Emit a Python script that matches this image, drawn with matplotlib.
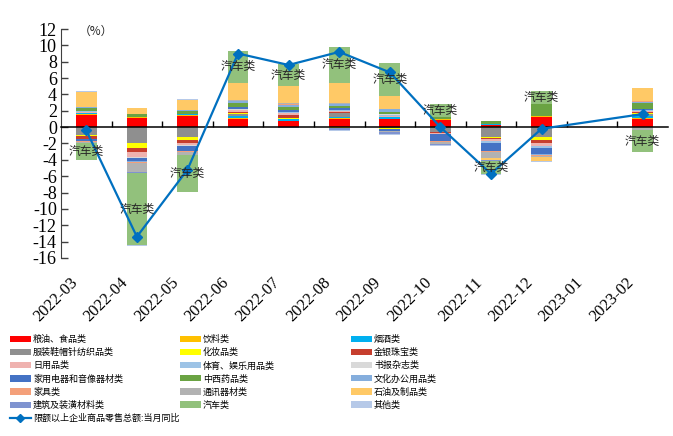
import numpy as np
import matplotlib
matplotlib.use("Agg")
import matplotlib.pyplot as plt
from matplotlib.patches import Patch
from matplotlib.lines import Line2D

nan = np.nan

months = ["2022-03", "2022-04", "2022-05", "2022-06", "2022-07", "2022-08",
          "2022-09", "2022-10", "2022-11", "2022-12", "2023-01", "2023-02"]

# contribution of each goods category (percentage points)
food      = [1.45, 1.10, 1.34, 1.00, 0.70, 1.00, 0.95, 0.90, 0.25, 1.20, nan, 1.00]
drinks    = [0.10, 0.15, 0.12, 0.15, 0.05, 0.10, 0.10, 0.10, 0.05, 0.12, nan, 0.10]
tobacco   = [0.20, 0.05, 0.20, 0.20, 0.20, 0.20, 0.15, 0.05, 0.05, 0.05, nan, 0.25]
apparel   = [-0.94, -1.96, -1.22, 0.20, 0.10, 0.40, -0.10, -0.55, -1.20, -1.15, nan, 0.25]
cosmetics = [-0.12, -0.57, -0.33, 0.15, 0.05, -0.15, -0.10, -0.05, -0.12, -0.45, nan, 0.10]
jewelry   = [-0.33, -0.53, -0.33, 0.20, 0.40, 0.10, 0.10, -0.10, -0.18, -0.35, nan, 0.15]
daily     = [0.10, -0.53, -0.29, 0.15, 0.20, 0.15, 0.10, -0.10, -0.25, -0.40, nan, 0.10]
sports    = [0.10, -0.12, -0.05, 0.10, 0.10, 0.10, 0.10, -0.05, -0.15, -0.15, nan, 0.10]
books     = [0.05, -0.05, -0.03, 0.10, 0.10, 0.10, 0.10, -0.02, -0.05, -0.05, nan, 0.05]
appliance = [-0.25, -0.41, -0.61, 0.25, 0.25, 0.15, -0.30, -0.80, -1.00, -0.70, nan, 0.10]
medicine  = [0.35, 0.30, 0.33, 0.50, 0.30, 0.30, 0.30, 0.25, 0.35, 1.40, nan, 0.80]
office    = [0.15, -0.05, 0.05, 0.15, 0.30, 0.20, 0.30, -0.05, 0.05, -0.20, nan, 0.10]
furniture = [-0.12, -0.20, -0.20, 0.05, 0.05, 0.05, 0.05, -0.05, -0.10, -0.10, nan, 0.05]
telecom   = [-0.16, -1.10, -0.29, 0.10, 0.10, 0.10, -0.15, -0.30, -0.75, -0.15, nan, -0.35]
petroleum = [1.75, 0.70, 1.30, 2.10, 2.10, 2.45, 1.55, -0.05, -0.25, -0.40, nan, 1.60]
building  = [0.05, -0.10, -0.10, -0.10, -0.10, -0.15, -0.20, -0.08, -0.05, -0.10, nan, -0.05]
car       = [-2.12, -8.80, -4.50, 3.95, 2.75, 4.45, 4.05, 1.50, -1.65, 1.60, nan, -2.70]
others    = [0.10, -0.16, 0.05, -0.05, -0.05, -0.15, -0.05, -0.05, -0.05, -0.05, nan, 0.00]

# retail sales of enterprises above designated size, y/y (%)
total_yoy = [-0.4, -13.4, -5.2, 9.0, 7.6, 9.2, 6.7, 0.0, -5.7, -0.2, nan, 1.6]

series = [
    ("粮油、食品类", food, "#FF0000"),
    ("饮料类", drinks, "#FFC000"),
    ("烟酒类", tobacco, "#00B0F0"),
    ("服装鞋帽针纺织品类", apparel, "#8F8F8F"),
    ("化妆品类", cosmetics, "#FFFF00"),
    ("金银珠宝类", jewelry, "#C63E2E"),
    ("日用品类", daily, "#EFB2AF"),
    ("体育、娱乐用品类", sports, "#9DC3E6"),
    ("书报杂志类", books, "#D9D9D9"),
    ("家用电器和音像器材类", appliance, "#4472C4"),
    ("中西药品类", medicine, "#6AA343"),
    ("文化办公用品类", office, "#85AEDD"),
    ("家具类", furniture, "#F4A07A"),
    ("通讯器材类", telecom, "#B2B2B2"),
    ("石油及制品类", petroleum, "#FFC966"),
    ("建筑及装潢材料类", building, "#7F93D0"),
    ("汽车类", car, "#92C17C"),
    ("其他类", others, "#B6C9E8"),
]
line_label = "限额以上企业商品零售总额:当月同比"
line_color = "#0070C0"

CJK = ["Noto Sans CJK SC", "DejaVu Sans"]
SERIF = ["Liberation Serif", "DejaVu Serif"]

W, H = 673, 436
fig = plt.figure(figsize=(W / 100, H / 100), dpi=100)
ax = fig.add_axes([61 / W, 1 - 258 / H, 607 / W, 229 / H])

x = np.arange(len(months))
bar_w = 0.41
pos_base = np.zeros(len(months))
neg_base = np.zeros(len(months))
handles = {}
car_mid = None
for name, vals, color in series:
    v = np.asarray(vals, dtype=float)
    valid = ~np.isnan(v)
    vv = np.where(valid, v, 0.0)
    bottom = np.where(vv >= 0, pos_base, neg_base)
    ax.bar(x[valid], vv[valid], width=bar_w, bottom=bottom[valid],
           color=color, linewidth=0, zorder=2)
    if name == "汽车类":
        car_mid = bottom + vv / 2
    pos_base = pos_base + np.where(vv > 0, vv, 0)
    neg_base = neg_base + np.where(vv < 0, vv, 0)
    handles[name] = Patch(facecolor=color, edgecolor="none")

# series-name labels on the car segments
car_arr = np.asarray(car, dtype=float)
for i in range(len(months)):
    if not np.isnan(car_arr[i]):
        ax.text(x[i], car_mid[i], "汽车类", ha="center", va="center",
                fontsize=8.5, family=CJK, color="#262626", zorder=4)

# total line, gap month skipped
ty = np.asarray(total_yoy, dtype=float)
ok = ~np.isnan(ty)
ax.plot(x[ok], ty[ok], color=line_color, lw=1.6, marker="D", ms=5,
        zorder=3)

ax.set_xlim(-0.5, len(months) - 0.5)
ax.set_ylim(-16, 12)
ax.set_yticks(np.arange(-16, 13, 2))
ax.set_yticklabels([str(t) for t in range(-16, 13, 2)], family=SERIF,
                   fontsize=13)
ax.tick_params(axis="y", direction="in", length=5, width=1, color="#404040",
               pad=3)

ax.spines["top"].set_visible(False)
ax.spines["right"].set_visible(False)
ax.spines["left"].set_color("#404040")
ax.spines["bottom"].set_position(("data", 0))
ax.spines["bottom"].set_color("black")
ax.spines["bottom"].set_linewidth(1.1)
ax.set_xticks(x[:-1] + 0.5)
ax.set_xticklabels([])
ax.tick_params(axis="x", direction="in", length=4, width=1, color="black")

for i, m in enumerate(months):
    ax.annotate(m, xy=(x[i], 0), xycoords=("data", "axes fraction"),
                xytext=(-4, -12), textcoords="offset points", rotation=45,
                ha="right", va="top", fontsize=12, family=SERIF)

fig.text(79 / W, 1 - 31 / H, "（%）", fontsize=8.5, family=CJK,
         ha="left", va="center", color="#262626")

# legend laid out row by row in three columns
names = [s[0] for s in series]
cols = [names[0::3] + [line_label], names[1::3], names[2::3]]
col_x = [10, 180, 351]
line_handle = Line2D([], [], color=line_color, lw=1.6, marker="D", ms=4)
for cx, col in zip(col_x, cols):
    hs = [line_handle if n == line_label else handles[n] for n in col]
    fig.legend(hs, col, loc="upper left",
               bbox_to_anchor=(cx / W, 1 - 335 / H), frameon=False,
               prop={"family": CJK, "size": 6.5}, handlelength=2.3,
               handleheight=0.7, handletextpad=0.25, labelspacing=0.44,
               borderpad=0, borderaxespad=0)

fig.savefig("out.png", dpi=100)
